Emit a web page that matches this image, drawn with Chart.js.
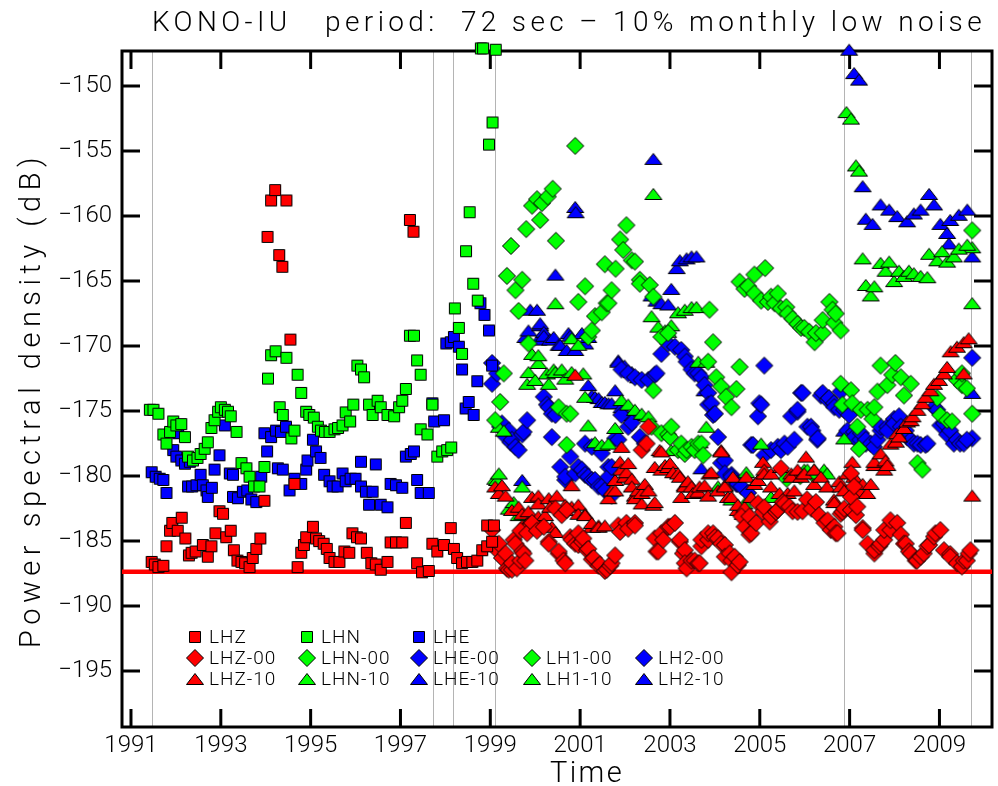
<!DOCTYPE html>
<html>
<head>
<meta charset="utf-8">
<title>KONO-IU 72 sec monthly low noise</title>
<script src="https://cdn.jsdelivr.net/npm/chart.js@4.4.1/dist/chart.umd.min.js"></script>
<style>
  html, body { margin: 0; padding: 0; background: #fff; }
  #wrap { width: 998px; height: 786px; }
</style>
</head>
<body>
<div id="wrap"><canvas id="psdChart" width="998" height="786"></canvas></div>
<script>
// axis ticks and reference lines
const xTickYears = [1991, 1993, 1995, 1997, 1999, 2001, 2003, 2005, 2007, 2009];
const yTickValues = [-150, -155, -160, -165, -170, -175, -180, -185, -190, -195];
const changeYears = [1991.47, 1997.72, 1998.18, 1999.11, 2006.88, 2009.70];
const lowNoiseLevel = -187.35;

// [decimal year, dB]
const LHZ = [[1991.46,-186.6],[1991.53,-186.8],[1991.61,-187.0],[1991.72,-186.9],[1991.79,-185.4],[1991.87,-184.2],[1991.92,-183.6],[1992.04,-184.2],[1992.13,-183.2],[1992.21,-184.8],[1992.29,-186.1],[1992.35,-185.9],[1992.44,-185.8],[1992.60,-185.3],[1992.71,-186.2],[1992.79,-185.4],[1992.88,-184.4],[1992.97,-182.7],[1993.05,-182.9],[1993.12,-184.7],[1993.22,-184.2],[1993.29,-185.7],[1993.37,-186.5],[1993.46,-186.6],[1993.54,-186.7],[1993.64,-187.0],[1993.71,-186.3],[1993.79,-185.6],[1993.88,-184.8],[1993.97,-181.9],[1994.04,-161.6],[1994.12,-158.8],[1994.21,-158.0],[1994.30,-163.0],[1994.37,-163.9],[1994.46,-158.8],[1994.55,-169.5],[1994.64,-180.6],[1994.71,-187.0],[1994.79,-185.9],[1994.85,-185.3],[1994.90,-184.7],[1995.05,-183.9],[1995.12,-184.8],[1995.19,-185.0],[1995.29,-185.2],[1995.36,-185.6],[1995.42,-186.3],[1995.53,-186.6],[1995.64,-186.6],[1995.75,-185.8],[1995.86,-185.9],[1995.93,-184.4],[1996.03,-184.7],[1996.12,-184.8],[1996.25,-185.9],[1996.35,-186.7],[1996.45,-186.8],[1996.56,-187.2],[1996.71,-186.6],[1996.78,-185.1],[1996.90,-185.1],[1997.04,-185.1],[1997.12,-183.6],[1997.21,-160.3],[1997.29,-161.2],[1997.37,-186.7],[1997.48,-187.4],[1997.63,-187.3],[1997.71,-185.2],[1997.82,-185.8],[1997.97,-185.3],[1998.12,-184.0],[1998.19,-185.6],[1998.26,-186.3],[1998.37,-186.7],[1998.48,-186.6],[1998.60,-186.6],[1998.71,-186.5],[1998.82,-185.7],[1998.93,-185.4],[1998.93,-183.8],[1999.04,-185.05],[1999.08,-183.8]];
const LHN = [[1991.42,-174.9],[1991.50,-174.9],[1991.61,-175.2],[1991.72,-176.8],[1991.79,-177.5],[1991.87,-176.6],[1991.94,-175.8],[1992.01,-176.1],[1992.12,-176.0],[1992.20,-177.0],[1992.27,-178.5],[1992.38,-178.8],[1992.48,-178.6],[1992.55,-178.3],[1992.64,-177.9],[1992.71,-177.4],[1992.79,-176.3],[1992.86,-175.7],[1992.94,-175.05],[1993.00,-174.7],[1993.09,-174.9],[1993.16,-175.05],[1993.22,-175.4],[1993.35,-176.6],[1993.46,-179.0],[1993.57,-179.4],[1993.64,-180.05],[1993.74,-180.8],[1993.86,-180.8],[1993.97,-179.3],[1994.05,-172.5],[1994.12,-170.7],[1994.22,-170.4],[1994.31,-174.7],[1994.38,-175.3],[1994.46,-170.9],[1994.57,-177.1],[1994.64,-176.5],[1994.71,-172.2],[1994.79,-173.6],[1994.90,-175.05],[1994.97,-175.3],[1995.07,-175.5],[1995.16,-176.2],[1995.23,-176.5],[1995.32,-176.6],[1995.42,-176.6],[1995.53,-176.4],[1995.61,-176.3],[1995.71,-176.1],[1995.78,-175.1],[1995.88,-175.8],[1995.95,-174.5],[1996.04,-171.5],[1996.12,-171.8],[1996.19,-172.4],[1996.30,-174.5],[1996.38,-175.3],[1996.49,-174.2],[1996.56,-174.7],[1996.71,-175.3],[1996.86,-175.4],[1996.97,-174.7],[1997.04,-174.2],[1997.12,-173.3],[1997.21,-169.2],[1997.30,-169.2],[1997.37,-171.1],[1997.45,-172.2],[1997.45,-176.4],[1997.60,-176.8],[1997.71,-174.5],[1997.82,-178.5],[1997.93,-178.1],[1998.04,-178.0],[1998.13,-177.8],[1998.21,-167.1],[1998.30,-168.6],[1998.37,-170.6],[1998.46,-162.7],[1998.54,-159.7],[1998.62,-165.2],[1998.72,-166.5],[1998.79,-147.1],[1998.84,-147.1],[1998.97,-154.5],[1999.05,-152.8],[1999.12,-147.2]];
const LHE = [[1991.46,-179.7],[1991.55,-180.05],[1991.64,-180.2],[1991.72,-180.3],[1991.79,-181.3],[1991.94,-178.0],[1992.01,-178.5],[1992.05,-176.7],[1992.12,-178.8],[1992.20,-179.05],[1992.27,-180.8],[1992.31,-178.9],[1992.36,-180.8],[1992.46,-180.7],[1992.55,-179.9],[1992.60,-180.7],[1992.68,-181.1],[1992.71,-181.6],[1992.80,-180.9],[1992.86,-179.5],[1992.97,-178.4],[1993.09,-176.1],[1993.20,-179.8],[1993.27,-179.9],[1993.27,-181.6],[1993.38,-181.7],[1993.49,-181.2],[1993.59,-181.1],[1993.68,-181.8],[1993.79,-182.0],[1993.90,-180.05],[1993.97,-176.7],[1994.03,-178.1],[1994.12,-177.0],[1994.23,-176.5],[1994.27,-179.4],[1994.34,-176.6],[1994.38,-179.5],[1994.45,-176.2],[1994.53,-181.1],[1994.64,-180.2],[1994.79,-180.6],[1994.90,-179.5],[1994.93,-178.8],[1995.05,-177.2],[1995.12,-178.1],[1995.22,-178.6],[1995.30,-179.9],[1995.42,-180.4],[1995.49,-180.8],[1995.60,-180.8],[1995.71,-179.8],[1995.78,-180.4],[1995.89,-180.2],[1996.00,-180.2],[1996.12,-180.8],[1996.12,-178.9],[1996.23,-181.2],[1996.30,-182.2],[1996.38,-181.2],[1996.45,-179.1],[1996.56,-182.2],[1996.71,-182.4],[1996.78,-180.6],[1996.90,-180.7],[1997.04,-180.9],[1997.12,-178.5],[1997.23,-178.3],[1997.30,-178.1],[1997.37,-180.3],[1997.45,-181.3],[1997.63,-181.3],[1997.71,-174.4],[1997.75,-175.8],[1997.97,-175.7],[1998.02,-169.8],[1998.12,-169.7],[1998.19,-169.3],[1998.30,-170.05],[1998.37,-171.8],[1998.45,-174.8],[1998.52,-174.3],[1998.63,-175.3],[1998.71,-172.7],[1998.78,-166.7],[1998.87,-167.6],[1998.97,-168.8],[1999.04,-171.5]];
const LHZ_00 = [[1999.04,-184.15],[1999.15,-185.7],[1999.19,-185.2],[1999.26,-186.3],[1999.34,-185.95],[1999.37,-187.1],[1999.41,-187.2],[1999.48,-187.2],[1999.48,-186.7],[1999.52,-184.9],[1999.56,-185.2],[1999.59,-187.1],[1999.67,-186.5],[1999.67,-184.2],[1999.71,-185.8],[1999.74,-185.95],[1999.78,-186.5],[1999.82,-184.4],[1999.93,-183.6],[2000.04,-184.2],[2000.19,-183.9],[2000.30,-185.05],[2000.30,-185.2],[2000.45,-182.5],[2000.52,-185.95],[2000.52,-185.8],[2000.59,-183.0],[2000.63,-186.5],[2000.67,-186.7],[2000.70,-182.6],[2000.78,-184.7],[2000.81,-184.9],[2000.89,-185.2],[2000.96,-185.3],[2000.96,-184.4],[2001.04,-185.05],[2001.07,-184.8],[2001.15,-185.7],[2001.18,-185.6],[2001.26,-186.4],[2001.30,-186.3],[2001.41,-186.9],[2001.44,-186.8],[2001.55,-187.3],[2001.59,-187.2],[2001.67,-186.9],[2001.70,-186.7],[2001.78,-186.1],[2001.85,-183.8],[2001.89,-184.3],[2002.03,-183.6],[2002.07,-184.05],[2002.22,-183.6],[2002.22,-183.8],[2002.37,-178.0],[2002.48,-177.5],[2002.52,-176.2],[2002.66,-184.8],[2002.70,-185.8],[2002.74,-185.8],[2002.81,-184.4],[2002.85,-184.9],[2002.96,-183.9],[2003.00,-183.9],[2003.11,-183.6],[2003.22,-185.05],[2003.22,-184.9],[2003.29,-185.95],[2003.33,-185.7],[2003.33,-186.7],[2003.37,-187.1],[2003.48,-186.5],[2003.55,-186.5],[2003.63,-186.7],[2003.66,-186.7],[2003.70,-185.4],[2003.70,-184.9],[2003.85,-184.9],[2003.85,-184.4],[2003.96,-184.4],[2004.00,-184.7],[2004.07,-184.8],[2004.14,-185.2],[2004.22,-185.3],[2004.22,-186.2],[2004.33,-185.95],[2004.37,-186.5],[2004.37,-187.4],[2004.44,-186.2],[2004.51,-186.85],[2004.55,-186.6],[2004.59,-183.1],[2004.66,-183.9],[2004.77,-184.5],[2004.77,-183.1],[2004.81,-184.4],[2004.92,-183.6],[2004.96,-182.1],[2005.07,-182.75],[2005.10,-182.4],[2005.22,-183.5],[2005.25,-183.1],[2005.36,-182.75],[2005.40,-182.6],[2005.47,-179.4],[2005.51,-182.0],[2005.55,-182.1],[2005.66,-182.35],[2005.73,-182.7],[2005.84,-182.75],[2005.95,-182.7],[2006.05,-181.8],[2006.15,-182.5],[2006.25,-182.0],[2006.32,-183.0],[2006.44,-183.6],[2006.51,-183.4],[2006.58,-184.15],[2006.66,-183.9],[2006.69,-184.4],[2006.73,-184.4],[2006.80,-182.9],[2006.84,-182.75],[2006.88,-182.5],[2007.03,-182.6],[2007.03,-179.8],[2007.03,-181.6],[2007.10,-180.8],[2007.14,-183.0],[2007.17,-182.35],[2007.29,-184.0],[2007.29,-184.15],[2007.40,-185.2],[2007.55,-185.95],[2007.55,-185.7],[2007.66,-185.4],[2007.69,-185.2],[2007.77,-184.9],[2007.77,-184.15],[2007.91,-184.15],[2007.91,-183.4],[2008.06,-183.6],[2008.14,-184.5],[2008.21,-185.2],[2008.25,-185.2],[2008.32,-185.8],[2008.36,-185.95],[2008.47,-186.5],[2008.50,-186.5],[2008.58,-186.2],[2008.65,-185.95],[2008.73,-185.4],[2008.77,-185.3],[2008.88,-184.65],[2008.91,-184.4],[2009.02,-184.15],[2009.10,-185.7],[2009.24,-186.0],[2009.24,-186.2],[2009.39,-186.7],[2009.50,-186.95],[2009.54,-186.5],[2009.61,-186.5],[2009.65,-185.95],[2009.69,-185.7]];
const LHZ_10 = [[1999.11,-180.8],[1999.19,-181.3],[1999.26,-180.7],[1999.34,-181.5],[1999.48,-182.6],[1999.63,-182.35],[1999.71,-182.9],[1999.71,-183.8],[1999.82,-183.6],[1999.85,-182.7],[1999.85,-183.6],[1999.93,-181.6],[2000.07,-181.5],[2000.07,-182.1],[2000.07,-183.1],[2000.15,-183.6],[2000.22,-183.0],[2000.30,-181.7],[2000.33,-182.35],[2000.37,-183.9],[2000.45,-184.3],[2000.48,-181.5],[2000.67,-182.6],[2000.67,-182.2],[2000.81,-182.35],[2000.81,-180.7],[2000.89,-172.2],[2000.96,-182.2],[2000.96,-182.9],[2001.11,-182.9],[2001.11,-183.0],[2001.26,-183.9],[2001.26,-183.6],[2001.41,-183.8],[2001.41,-183.9],[2001.55,-183.8],[2001.63,-181.7],[2001.70,-181.1],[2001.78,-180.3],[2001.78,-181.1],[2001.89,-178.9],[2001.92,-177.75],[2001.92,-179.5],[2002.00,-180.05],[2002.03,-179.7],[2002.07,-179.0],[2002.15,-180.2],[2002.15,-180.8],[2002.22,-181.5],[2002.22,-181.7],[2002.29,-181.1],[2002.37,-182.1],[2002.37,-181.3],[2002.44,-180.6],[2002.52,-181.1],[2002.63,-182.2],[2002.66,-182.0],[2002.66,-179.3],[2002.77,-178.0],[2002.81,-178.1],[2002.81,-179.5],[2002.89,-179.15],[2002.96,-179.3],[2003.00,-179.0],[2003.07,-179.7],[2003.18,-179.8],[2003.22,-180.05],[2003.25,-181.6],[2003.33,-180.7],[2003.33,-180.8],[2003.40,-180.4],[2003.48,-180.8],[2003.51,-181.3],[2003.63,-181.2],[2003.66,-180.8],[2003.77,-180.7],[2003.85,-181.5],[2003.88,-179.8],[2003.92,-179.7],[2004.07,-181.1],[2004.14,-178.0],[2004.14,-178.1],[2004.22,-180.7],[2004.22,-180.8],[2004.29,-181.6],[2004.37,-181.6],[2004.40,-180.05],[2004.51,-182.6],[2004.51,-182.2],[2004.62,-182.9],[2004.66,-182.35],[2004.70,-180.05],[2004.81,-181.6],[2004.88,-180.6],[2004.96,-180.3],[2005.07,-178.9],[2005.10,-179.5],[2005.10,-179.8],[2005.25,-179.8],[2005.25,-180.8],[2005.44,-181.3],[2005.47,-179.3],[2005.62,-181.3],[2005.70,-179.8],[2005.70,-180.05],[2005.77,-181.1],[2005.84,-179.5],[2005.92,-180.05],[2005.99,-179.8],[2006.03,-178.5],[2006.21,-179.5],[2006.21,-180.6],[2006.36,-180.05],[2006.50,-180.8],[2006.65,-181.8],[2006.66,-182.0],[2006.77,-180.4],[2006.80,-180.8],[2006.88,-181.1],[2006.95,-179.8],[2007.06,-178.9],[2007.10,-180.05],[2007.24,-181.2],[2007.29,-180.6],[2007.39,-181.3],[2007.47,-180.6],[2007.55,-179.15],[2007.55,-178.9],[2007.69,-178.25],[2007.77,-179.5],[2007.80,-178.8],[2007.84,-179.15],[2007.91,-177.5],[2008.03,-177.35],[2008.06,-176.7],[2008.10,-176.95],[2008.21,-176.3],[2008.28,-175.8],[2008.36,-175.7],[2008.40,-175.4],[2008.51,-174.9],[2008.62,-174.4],[2008.69,-173.9],[2008.80,-173.4],[2008.88,-172.9],[2008.99,-172.6],[2009.10,-172.1],[2009.17,-171.6],[2009.25,-170.4],[2009.39,-170.05],[2009.54,-169.7],[2009.54,-172.1],[2009.65,-169.4],[2009.73,-181.5]];
const LHN_00 = [[1999.11,-175.7],[1999.22,-174.3],[1999.30,-172.1],[1999.37,-164.6],[1999.46,-162.3],[1999.56,-165.7],[1999.63,-167.3],[1999.71,-164.9],[1999.80,-161.0],[1999.85,-169.8],[1999.93,-159.2],[2000.04,-158.7],[2000.11,-160.3],[2000.15,-159.0],[2000.28,-158.5],[2000.39,-157.9],[2000.46,-161.9],[2000.52,-174.7],[2000.70,-175.2],[2000.70,-177.6],[2000.78,-175.2],[2000.89,-154.6],[2000.96,-166.6],[2001.11,-165.4],[2001.18,-169.3],[2001.26,-168.8],[2001.33,-167.7],[2001.48,-167.4],[2001.55,-163.7],[2001.59,-166.7],[2001.63,-166.7],[2001.70,-165.7],[2001.79,-164.05],[2001.89,-161.8],[2001.96,-162.6],[2002.03,-160.7],[2002.15,-163.4],[2002.22,-163.5],[2002.33,-164.9],[2002.33,-165.2],[2002.55,-165.3],[2002.59,-176.2],[2002.63,-166.2],[2002.63,-173.4],[2002.81,-176.7],[2002.81,-169.3],[2002.96,-169.0],[2002.96,-176.8],[2003.00,-177.0],[2003.03,-176.2],[2003.18,-178.0],[2003.25,-177.5],[2003.33,-178.3],[2003.37,-178.0],[2003.48,-177.75],[2003.55,-178.0],[2003.63,-177.5],[2003.70,-177.5],[2003.74,-178.4],[2003.85,-171.2],[2003.88,-167.2],[2003.96,-169.7],[2004.03,-172.4],[2004.14,-173.1],[2004.25,-173.9],[2004.37,-174.7],[2004.48,-173.3],[2004.55,-171.6],[2004.55,-165.05],[2004.66,-165.6],[2004.74,-165.4],[2004.88,-164.5],[2004.88,-165.95],[2005.03,-166.5],[2005.12,-164.0],[2005.18,-166.6],[2005.25,-166.2],[2005.33,-166.7],[2005.40,-165.95],[2005.47,-167.1],[2005.59,-167.0],[2005.60,-180.2],[2005.62,-167.5],[2005.73,-167.9],[2005.84,-168.3],[2005.90,-180.0],[2005.92,-168.6],[2005.99,-168.6],[2006.10,-168.9],[2006.20,-179.9],[2006.22,-169.7],[2006.25,-169.0],[2006.40,-169.0],[2006.40,-168.0],[2006.55,-166.6],[2006.62,-167.2],[2006.66,-168.2],[2006.69,-167.5],[2006.80,-168.8],[2006.80,-172.9],[2006.84,-174.5],[2007.03,-173.4],[2007.06,-174.4],[2007.17,-176.2],[2007.21,-177.9],[2007.25,-174.9],[2007.40,-174.9],[2007.51,-175.6],[2007.55,-174.7],[2007.62,-173.5],[2007.69,-171.5],[2007.84,-173.0],[2007.95,-172.2],[2008.02,-171.3],[2008.14,-172.4],[2008.21,-173.8],[2008.36,-172.9],[2008.51,-179.0],[2008.62,-179.5],[2008.95,-174.0],[2009.02,-175.3],[2009.17,-175.7],[2009.28,-175.8],[2009.39,-172.6],[2009.50,-173.0],[2009.50,-172.1],[2009.61,-173.25]];
const LHN_10 = [[1999.11,-180.2],[1999.15,-180.3],[1999.19,-179.8],[1999.19,-176.2],[1999.30,-176.5],[1999.41,-182.5],[1999.52,-182.0],[1999.63,-183.0],[1999.71,-180.8],[1999.82,-172.9],[1999.85,-172.0],[1999.93,-170.6],[2000.00,-172.6],[2000.07,-171.3],[2000.07,-170.7],[2000.26,-172.1],[2000.30,-172.9],[2000.41,-171.8],[2000.45,-166.7],[2000.45,-172.0],[2000.59,-171.8],[2000.67,-172.5],[2000.81,-172.0],[2000.81,-169.4],[2000.96,-169.9],[2001.07,-172.1],[2001.11,-173.9],[2001.18,-176.1],[2001.33,-177.4],[2001.48,-177.6],[2001.63,-177.5],[2001.78,-176.3],[2001.92,-174.15],[2002.07,-174.5],[2002.22,-174.9],[2002.37,-175.2],[2002.52,-175.4],[2002.59,-167.7],[2002.63,-158.3],[2002.74,-168.5],[2002.89,-168.8],[2002.96,-168.9],[2003.03,-168.4],[2003.03,-178.0],[2003.18,-167.4],[2003.29,-177.9],[2003.33,-167.2],[2003.48,-167.0],[2003.48,-177.75],[2003.59,-167.0],[2003.63,-171.2],[2003.66,-177.4],[2003.81,-171.2],[2003.81,-176.2],[2004.07,-180.8],[2004.37,-181.8],[2004.66,-182.1],[2004.70,-179.7],[2005.03,-177.5],[2005.25,-181.6],[2005.70,-179.9],[2005.99,-179.5],[2006.06,-179.5],[2006.21,-179.5],[2006.43,-179.5],[2006.50,-179.8],[2006.88,-177.1],[2006.93,-152.0],[2007.03,-152.5],[2007.14,-156.1],[2007.21,-156.5],[2007.29,-163.25],[2007.36,-165.3],[2007.47,-166.1],[2007.55,-165.4],[2007.69,-163.6],[2007.80,-164.2],[2007.88,-163.5],[2007.99,-165.0],[2008.10,-164.2],[2008.21,-164.6],[2008.32,-164.2],[2008.43,-164.4],[2008.58,-164.6],[2008.73,-164.7],[2008.77,-162.9],[2008.95,-163.4],[2009.06,-162.7],[2009.17,-163.5],[2009.32,-163.1],[2009.43,-162.5],[2009.62,-162.2]];
const LHE_00 = [[1999.04,-172.9],[1999.04,-171.3],[1999.15,-172.1],[1999.22,-176.2],[1999.26,-175.95],[1999.34,-176.95],[1999.41,-176.5],[1999.45,-177.4],[1999.48,-177.2],[1999.56,-177.75],[1999.63,-178.0],[1999.71,-176.8],[1999.74,-176.6],[1999.82,-175.7],[2000.19,-173.9],[2000.26,-174.5],[2000.30,-174.7],[2000.37,-175.2],[2000.37,-177.0],[2000.45,-175.3],[2000.56,-179.3],[2000.67,-180.3],[2000.67,-180.05],[2000.78,-178.5],[2000.89,-179.8],[2000.96,-179.3],[2001.04,-179.5],[2001.11,-179.9],[2001.11,-177.5],[2001.18,-180.05],[2001.26,-180.3],[2001.26,-177.75],[2001.33,-180.3],[2001.41,-180.8],[2001.48,-178.25],[2001.48,-180.8],[2001.55,-181.1],[2001.63,-179.3],[2001.63,-180.05],[2001.70,-181.5],[2001.70,-179.3],[2001.78,-177.1],[2001.85,-177.2],[2001.92,-175.3],[2001.92,-171.8],[2002.07,-176.2],[2002.07,-172.1],[2002.15,-175.9],[2002.22,-172.4],[2002.33,-177.0],[2002.37,-172.6],[2002.44,-177.5],[2002.52,-172.6],[2002.66,-172.2],[2002.70,-172.1],[2002.81,-170.6],[2002.96,-169.8],[2003.11,-170.05],[2003.25,-170.3],[2003.33,-170.8],[2003.37,-171.2],[2003.48,-171.8],[2003.55,-172.1],[2003.63,-172.1],[2003.70,-172.4],[2003.77,-173.0],[2003.85,-173.6],[2003.85,-174.5],[2003.92,-174.4],[2003.96,-175.3],[2004.00,-175.2],[2004.07,-177.0],[2004.14,-179.0],[2004.22,-178.8],[2004.22,-179.8],[2004.37,-179.9],[2004.37,-180.05],[2004.48,-180.6],[2004.51,-180.6],[2004.59,-180.8],[2004.74,-181.3],[2004.81,-177.6],[2004.85,-177.6],[2004.96,-175.4],[2004.99,-174.4],[2005.03,-174.5],[2005.10,-171.5],[2005.10,-178.4],[2005.25,-178.0],[2005.40,-177.75],[2005.47,-178.0],[2005.55,-177.5],[2005.62,-177.75],[2005.70,-175.4],[2005.77,-177.2],[2005.84,-175.05],[2005.84,-174.9],[2005.92,-173.6],[2005.95,-173.6],[2006.06,-176.2],[2006.14,-176.2],[2006.17,-176.5],[2006.28,-177.2],[2006.29,-177.1],[2006.36,-173.8],[2006.40,-173.6],[2006.51,-174.15],[2006.54,-174.0],[2006.65,-174.4],[2006.66,-174.7],[2006.77,-174.9],[2006.80,-173.5],[2006.88,-174.9],[2006.95,-176.5],[2006.99,-175.3],[2007.10,-176.6],[2007.10,-177.0],[2007.24,-177.2],[2007.25,-176.7],[2007.36,-177.5],[2007.36,-177.2],[2007.47,-177.5],[2007.54,-177.75],[2007.62,-177.2],[2007.69,-176.5],[2007.69,-176.2],[2007.84,-176.2],[2007.84,-176.5],[2007.99,-175.6],[2007.99,-175.95],[2008.10,-175.4],[2008.14,-176.2],[2008.25,-176.5],[2008.28,-177.0],[2008.36,-177.2],[2008.43,-177.5],[2008.51,-177.5],[2008.58,-177.6],[2008.69,-177.6],[2008.73,-177.5],[2008.88,-174.7],[2008.95,-174.9],[2009.02,-176.1],[2009.10,-175.95],[2009.17,-176.8],[2009.24,-176.5],[2009.32,-177.5],[2009.39,-177.2],[2009.46,-177.5],[2009.54,-177.5],[2009.61,-177.2]];
const LHE_10 = [[1999.71,-180.3],[1999.78,-169.3],[1999.85,-168.8],[1999.89,-167.2],[2000.04,-167.2],[2000.07,-169.5],[2000.11,-168.4],[2000.11,-168.25],[2000.19,-168.9],[2000.19,-169.2],[2000.33,-169.5],[2000.41,-169.3],[2000.45,-164.5],[2000.52,-169.9],[2000.56,-169.9],[2000.70,-170.3],[2000.74,-169.0],[2000.78,-169.2],[2000.89,-170.3],[2000.89,-159.3],[2000.90,-159.7],[2001.04,-169.0],[2001.11,-169.8],[2001.18,-169.3],[2001.18,-173.0],[2001.26,-173.8],[2001.33,-173.9],[2001.41,-174.0],[2001.48,-174.3],[2001.55,-174.3],[2001.63,-174.4],[2001.70,-174.4],[2001.78,-173.4],[2001.85,-171.1],[2001.85,-171.2],[2001.92,-174.7],[2001.99,-171.5],[2002.15,-172.0],[2002.15,-175.3],[2002.29,-172.4],[2002.59,-166.1],[2002.63,-155.6],[2002.70,-166.5],[2002.81,-166.7],[2002.96,-166.8],[2003.03,-165.6],[2003.15,-164.0],[2003.22,-163.4],[2003.37,-163.25],[2003.48,-163.1],[2003.59,-163.1],[2003.70,-179.4],[2003.77,-173.4],[2006.88,-176.5],[2006.99,-147.2],[2007.10,-149.0],[2007.21,-149.5],[2007.29,-157.7],[2007.36,-160.2],[2007.51,-160.6],[2007.69,-159.1],[2007.88,-159.5],[2008.06,-160.0],[2008.28,-160.4],[2008.43,-159.8],[2008.58,-159.5],[2008.77,-158.3],[2008.88,-159.1],[2009.02,-160.6],[2009.17,-161.3],[2009.21,-162.1],[2009.24,-160.3],[2009.43,-159.9],[2009.62,-159.5]];
const LH1_00 = [[2009.73,-161.1],[2009.73,-175.2]];
const LH1_10 = [[2009.73,-162.4],[2009.73,-166.7]];
const LH2_00 = [[2009.73,-170.9],[2009.73,-177.1]];
const LH2_10 = [[2009.73,-163.1],[2009.73,-173.6]];

const RED = '#ff0000', GREEN = '#00ff00', BLUE = '#0000ff';
const FONT = 'Roboto';

// IDL-like plot symbols as small canvases
function makeMarker(shape, color) {
  const c = document.createElement('canvas');
  const g = c.getContext('2d');
  if (shape === 'square') {
    c.width = 14; c.height = 14;
    g.rect(1.5, 1.5, 11, 11);
  } else if (shape === 'diamond') {
    c.width = 20; c.height = 20;
    g.moveTo(10, 1.5); g.lineTo(18.5, 10); g.lineTo(10, 18.5); g.lineTo(1.5, 10); g.closePath();
  } else {
    c.width = 20; c.height = 14;
    g.moveTo(10, 1.5); g.lineTo(18.5, 12.5); g.lineTo(1.5, 12.5); g.closePath();
  }
  g.fillStyle = color;
  g.fill();
  g.lineWidth = 1;
  g.strokeStyle = '#000';
  g.stroke();
  return c;
}

// label, data, shape, colour, legend row/col, draw order (higher = drawn earlier)
const series = [
  ['LHZ', LHZ, 'square', RED, 0, 0, 1],
  ['LHN', LHN, 'square', GREEN, 0, 1, 2],
  ['LHE', LHE, 'square', BLUE, 0, 2, 3],
  ['LHZ-00', LHZ_00, 'diamond', RED, 1, 0, 1],
  ['LHN-00', LHN_00, 'diamond', GREEN, 1, 1, 2],
  ['LHE-00', LHE_00, 'diamond', BLUE, 1, 2, 3],
  ['LH1-00', LH1_00, 'diamond', GREEN, 1, 3, 2],
  ['LH2-00', LH2_00, 'diamond', BLUE, 1, 4, 3],
  ['LHZ-10', LHZ_10, 'triangle', RED, 2, 0, 1],
  ['LHN-10', LHN_10, 'triangle', GREEN, 2, 1, 2],
  ['LHE-10', LHE_10, 'triangle', BLUE, 2, 2, 3],
  ['LH1-10', LH1_10, 'triangle', GREEN, 2, 3, 2],
  ['LH2-10', LH2_10, 'triangle', BLUE, 2, 4, 3]
];

const datasets = series.map(([label, pts, shape, color, row, col, order]) => ({
  label: label,
  data: pts.map(p => ({ x: p[0], y: p[1] })),
  pointStyle: makeMarker(shape, color),
  pointRadius: 5,
  pointHoverRadius: 5,
  clip: false,
  order: order,
  legendRow: row,
  legendCol: col
}));

const xMin = 1990.8, xMax = 2010.17;
datasets.push({
  type: 'line',
  label: 'low noise',
  data: [{ x: xMin, y: lowNoiseLevel }, { x: xMax, y: lowNoiseLevel }],
  borderColor: RED,
  borderWidth: 4.5,
  pointRadius: 0,
  order: 10
});

function spacedText(ctx, text, x, y, width) {
  ctx.letterSpacing = '0px';
  const w = ctx.measureText(text).width;
  ctx.letterSpacing = ((width - w) / text.length) + 'px';
  ctx.fillText(text, x, y);
  ctx.letterSpacing = '0px';
}

const framePlugin = {
  id: 'frame',
  beforeDatasetsDraw(chart) {
    const { ctx, chartArea: a, scales: { x, y } } = chart;
    ctx.save();
    ctx.strokeStyle = '#b4b4b4';
    ctx.lineWidth = 1;
    changeYears.forEach(yr => {
      const px = Math.round(x.getPixelForValue(yr)) + 0.5;
      ctx.beginPath(); ctx.moveTo(px, a.top); ctx.lineTo(px, a.bottom); ctx.stroke();
    });
    ctx.strokeStyle = '#000';
    ctx.lineWidth = 3;
    ctx.strokeRect(a.left, a.top, a.right - a.left, a.bottom - a.top);
    const len = 18;
    x.ticks.forEach(t => {
      const px = x.getPixelForValue(t.value);
      ctx.beginPath();
      ctx.moveTo(px, a.bottom); ctx.lineTo(px, a.bottom - len);
      ctx.moveTo(px, a.top); ctx.lineTo(px, a.top + len);
      ctx.stroke();
    });
    y.ticks.forEach(t => {
      const py = y.getPixelForValue(t.value);
      ctx.beginPath();
      ctx.moveTo(a.left, py); ctx.lineTo(a.left + len, py);
      ctx.moveTo(a.right, py); ctx.lineTo(a.right - len, py);
      ctx.stroke();
    });
    ctx.restore();
  },
  afterDraw(chart) {
    const ctx = chart.ctx;
    ctx.save();
    ctx.fillStyle = '#000';
    ctx.textBaseline = 'alphabetic';
    ctx.textAlign = 'left';

    ctx.font = '300 28px ' + FONT;
    spacedText(ctx, 'KONO-IU   period:  72 sec \u2013 10% monthly low noise', 152, 31, 834);

    ctx.font = '300 29px ' + FONT;
    spacedText(ctx, 'Time', 550, 782, 74);

    ctx.save();
    ctx.translate(40, 400);
    ctx.rotate(-Math.PI / 2);
    ctx.font = '300 29px ' + FONT;
    spacedText(ctx, 'Power spectral density (dB)', -248, 0, 496);
    ctx.restore();

    // legend inside the plot
    const colX = [195, 307, 419, 532, 644];
    const rowY = [637, 658, 679];
    ctx.font = '300 19px ' + FONT;
    ctx.textBaseline = 'middle';
    chart.data.datasets.forEach(ds => {
      if (ds.legendRow === undefined) return;
      const mx = colX[ds.legendCol], my = rowY[ds.legendRow];
      const img = ds.pointStyle;
      ctx.drawImage(img, Math.round(mx - img.width / 2), Math.round(my - img.height / 2));
      ctx.letterSpacing = '1px';
      ctx.fillText(ds.label, mx + 14, my + 1);
      ctx.letterSpacing = '0px';
    });
    ctx.restore();
  }
};

new Chart(document.getElementById('psdChart'), {
  type: 'scatter',
  data: { datasets: datasets },
  options: {
    responsive: false,
    animation: false,
    devicePixelRatio: 1,
    layout: { padding: { top: 51, right: 3, left: 0, bottom: 0 } },
    plugins: {
      legend: { display: false },
      tooltip: { enabled: false },
      title: { display: false }
    },
    scales: {
      x: {
        type: 'linear',
        min: xMin,
        max: xMax,
        afterBuildTicks: s => { s.ticks = xTickYears.map(v => ({ value: v })); },
        afterFit: s => { s.height = 59; },
        grid: { display: false, drawTicks: false },
        border: { display: false },
        ticks: {
          color: '#000',
          padding: 5,
          maxRotation: 0,
          autoSkip: false,
          font: { family: FONT, size: 24, weight: '300' },
          callback: v => String(v)
        }
      },
      y: {
        type: 'linear',
        min: -199.3,
        max: -147.3,
        afterBuildTicks: s => { s.ticks = yTickValues.map(v => ({ value: v })); },
        afterFit: s => { s.width = 122; },
        grid: { display: false, drawTicks: false },
        border: { display: false },
        ticks: {
          color: '#000',
          padding: 10,
          autoSkip: false,
          font: { family: FONT, size: 24, weight: '300' },
          callback: v => '\u2212' + Math.abs(v)
        }
      }
    }
  },
  plugins: [framePlugin]
});
</script>
</body>
</html>
